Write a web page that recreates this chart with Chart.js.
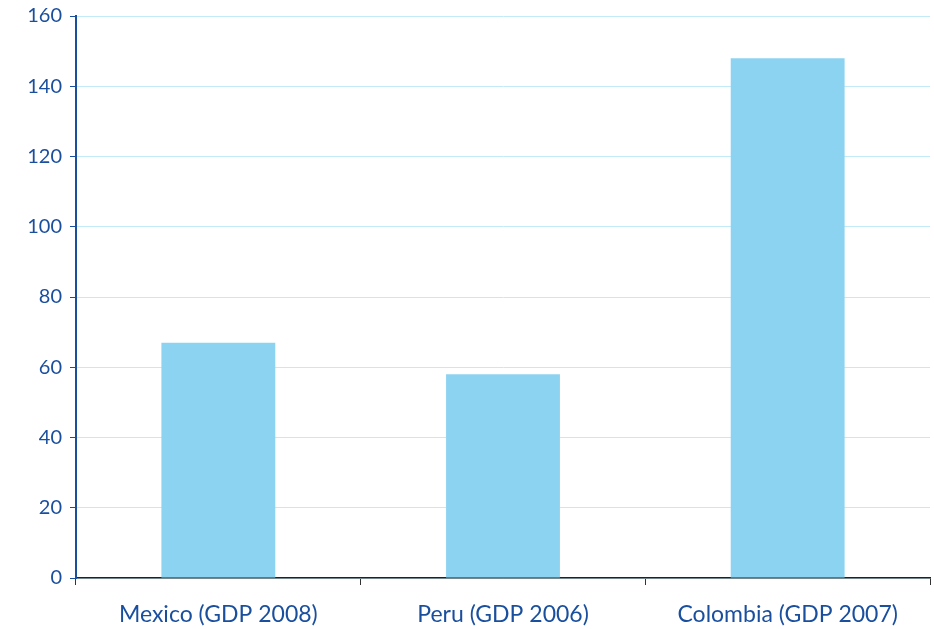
<!DOCTYPE html>
<html>
<head>
<meta charset="utf-8">
<title>GDP bars</title>
<script src="https://cdn.jsdelivr.net/npm/chart.js@4.4.0/dist/chart.umd.min.js"></script>
<style>
  body { margin: 0; background: #fff; }
</style>
</head>
<body>
<canvas id="chart" width="934" height="629"></canvas>
<script>
const categories = ['Mexico (GDP 2008)', 'Peru (GDP 2006)', 'Colombia (GDP 2007)'];
const values = [67, 58, 148];
const yTicks = [0, 20, 40, 60, 80, 100, 120, 140, 160];

const blue = '#1a4f9e';

const ctx = document.getElementById('chart').getContext('2d');
new Chart(ctx, {
  type: 'bar',
  data: {
    labels: categories,
    datasets: [{
      data: values,
      backgroundColor: '#8cd3f2',
      borderWidth: 0,
      categoryPercentage: 0.4,
      barPercentage: 1
    }]
  },
  options: {
    responsive: false,
    animation: false,
    layout: { padding: { top: 16, right: 4, left: 0, bottom: 0 } },
    plugins: { legend: { display: false }, tooltip: { enabled: false } },
    scales: {
      x: {
        grid: { display: true, drawOnChartArea: false, color: '#333', tickLength: 7, lineWidth: 1 },
        border: { color: '#222', width: 1.5 },
        ticks: { color: blue, padding: 16, font: { family: 'Lato', size: 23 } },
        afterFit: s => { s.height = 51; }
      },
      y: {
        min: 0,
        max: 160,
        afterBuildTicks: s => { s.ticks = yTicks.map(v => ({ value: v })); },
        grid: { color: '#c3eaf7', tickColor: blue, tickLength: 6, lineWidth: 1 },
        border: { color: blue, width: 2 },
        ticks: { color: blue, padding: 8, font: { family: 'Lato', size: 20 } },
        afterFit: s => { s.width = 76; s.paddingTop = 0; }
      }
    }
  }
});
</script>
</body>
</html>
